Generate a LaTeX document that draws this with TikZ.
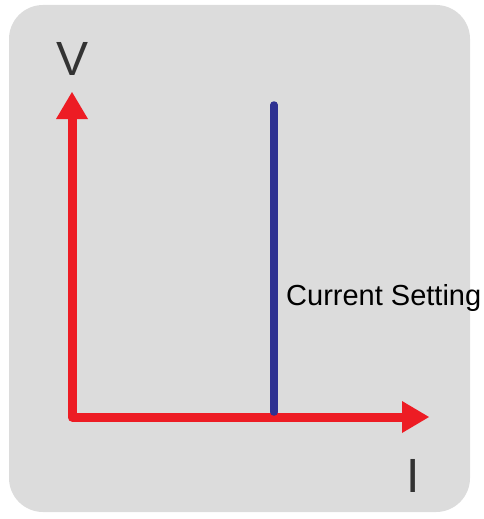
\documentclass[tikz,border=0pt]{standalone}
\usepackage{fontspec}
\setmainfont{Liberation Sans}
\definecolor{bggray}{HTML}{DCDCDC}
\definecolor{axisred}{HTML}{ED1C24}
\definecolor{setblue}{HTML}{2E3192}
\definecolor{labgray}{HTML}{333333}
\tikzset{
  axisline/.style={draw=axisred, line width=9pt, line join=round},
  arrowhead/.style={fill=axisred},
  setline/.style={draw=setblue, line width=7.5pt, line cap=round},
  biglabel/.style={text=labgray, font=\fontsize{48}{48}\selectfont, inner sep=0pt},
  smalllabel/.style={text=black, font=\fontsize{29}{29}\selectfont, inner sep=0pt}
}
\begin{document}
\begin{tikzpicture}[x=1pt,y=-1pt]
\useasboundingbox (0,0) rectangle (483,519);
\fill[bggray, rounded corners=34pt] (9,5) rectangle (470,512);
\coordinate (origin) at (72,417);
\coordinate (ybase) at (72,118);
\coordinate (xbase) at (403,417);
\coordinate (ytip) at (72,92);
\coordinate (xtip) at (429,417);
\coordinate (btop) at (274,105);
\coordinate (bbot) at (274,412);
\draw[axisline] (ybase) -- (origin) -- (xbase);
\fill[arrowhead] (ytip) -- ++(-16,27) -- ++(32,0) -- cycle;
\fill[arrowhead] (xtip) -- ++(-27,-16) -- ++(0,32) -- cycle;
\draw[setline] (btop) -- (bbot);
\node[biglabel, anchor=base] (vlab) at (73,75) {V};
\node[biglabel, anchor=base] (ilab) at (413,492) {I};
\node[smalllabel, anchor=base west] (setlab) at (286,305) {Current Setting};
\end{tikzpicture}
\end{document}
